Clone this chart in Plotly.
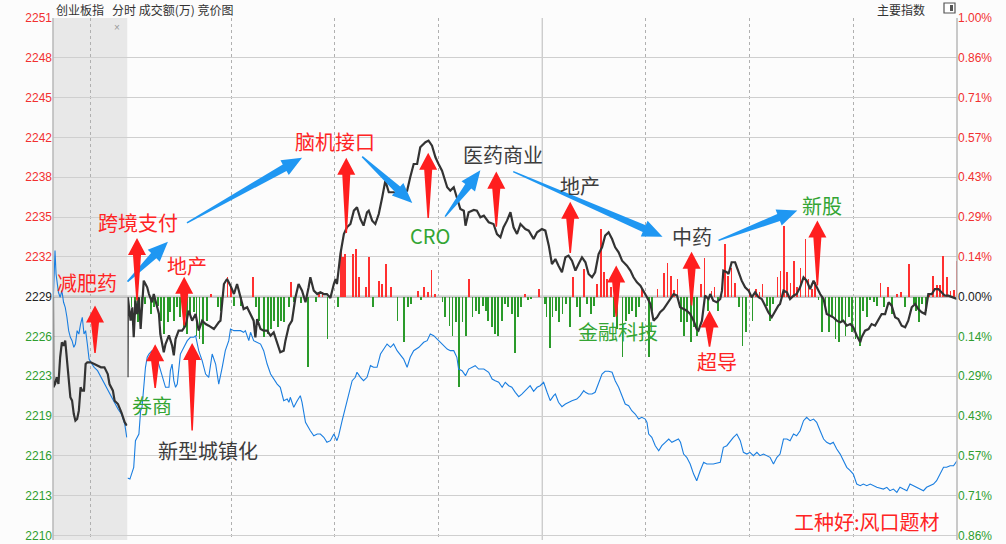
import math
import plotly.graph_objects as go

# ---------------- data ----------------
PREV_CLOSE = 2228.7
STEP = PREV_CLOSE / 700.0          # one grid step = 1/7 %
grid_steps = list(range(-6, 8))
price_labels = ["2210", "2213", "2216", "2219", "2223", "2226", "2229",
                "2232", "2235", "2238", "2242", "2245", "2248", "2251"]
pct_labels = ["0.86%", "0.71%", "0.57%", "0.43%", "0.29%", "0.14%", "0.00%",
              "0.14%", "0.29%", "0.43%", "0.57%", "0.71%", "0.86%", "1.00%"]

# call auction (minutes after 9:15)
auction_black = [(0, 2228.7), (0.05, 2221.45), (0.27, 2221.71), (0.5, 2222.25), (0.73, 2221.71),
                 (0.96, 2223.85), (1.19, 2225.05), (1.42, 2224.78), (1.64, 2225.18), (1.87, 2223.58),
                 (2.1, 2221.98), (2.33, 2220.65), (2.56, 2220.38), (2.79, 2219.31), (3.01, 2218.78),
                 (3.24, 2218.91), (3.47, 2219.58), (3.7, 2221.45), (3.93, 2221.18), (4.16, 2221.18),
                 (4.38, 2223.31), (4.61, 2223.45), (5.07, 2223.45), (5.53, 2223.31), (5.98, 2223.18),
                 (6.44, 2223.05), (6.9, 2223.05), (7.35, 2222.51), (7.58, 2221.71), (8.04, 2221.18),
                 (8.27, 2220.38), (8.72, 2220.11), (9.18, 2219.45), (9.63, 2218.65), (9.9, 2218.38)]
auction_blue = [(0.05, 2228.65), (0.27, 2232.38), (0.41, 2230.51), (0.59, 2229.85), (0.73, 2229.05),
                (0.96, 2228.65), (1.19, 2229.18), (1.42, 2228.25), (1.64, 2227.85), (1.87, 2227.05),
                (2.1, 2225.98), (2.33, 2225.45), (2.56, 2225.18), (2.79, 2224.65), (3.01, 2224.91),
                (3.24, 2225.98), (3.47, 2225.71), (3.7, 2226.51), (3.93, 2227.05), (4.16, 2225.71),
                (4.38, 2225.98), (4.61, 2224.91), (4.84, 2223.71), (5.07, 2223.45), (5.53, 2223.05),
                (5.98, 2222.78), (6.44, 2222.25), (6.9, 2221.71), (7.35, 2221.18), (7.81, 2220.65),
                (8.27, 2220.11), (8.72, 2219.71), (9.18, 2219.31), (9.63, 2218.51), (9.9, 2217.45)]

# trading session (minutes after 9:30, lunch removed)
index_line = [(0, 2222.25), (0.1, 2228.65), (0.9, 2226.78), (1.4, 2227.85), (1.8, 2225.45), (2.3, 2228.38),
              (2.8, 2227.31), (3.3, 2228.65), (3.8, 2226.11), (4.2, 2227.85), (4.7, 2229.98), (5.2, 2229.71),
              (5.7, 2229.45), (6.2, 2228.91), (6.7, 2228.51), (7.1, 2228.25), (7.6, 2228.91), (8.6, 2227.85),
              (9.1, 2227.31), (9.5, 2225.71), (10.5, 2224.25), (11.0, 2224.91), (12.0, 2225.6), (12.9, 2224.8),
              (13.4, 2224.0), (13.9, 2225.31), (14.8, 2225.98), (15.8, 2225.98), (16.8, 2226.38), (17.7, 2227.58),
              (18.7, 2226.78), (19.7, 2227.31), (20.6, 2225.98), (21.6, 2226.78), (22.6, 2226.51), (23.5, 2226.38),
              (25.0, 2226.11), (26.4, 2226.65), (26.9, 2226.78), (27.9, 2229.71), (28.8, 2230.11), (29.8, 2229.58),
              (30.8, 2228.91), (31.7, 2229.71), (32.7, 2228.65), (33.6, 2227.71), (34.6, 2227.85), (35.6, 2227.31),
              (36.5, 2226.78), (37.0, 2225.45), (37.5, 2226.91), (38.5, 2226.11), (39.4, 2225.98), (40.4, 2225.98),
              (41.4, 2225.58), (42.3, 2225.85), (43.3, 2224.91), (44.2, 2224.25), (45.2, 2224.38), (45.7, 2225.18),
              (46.7, 2226.38), (47.6, 2226.78), (48.6, 2228.65), (49.5, 2229.71), (50.5, 2229.18), (51.5, 2228.25),
              (52.4, 2229.45), (52.9, 2230.25), (53.9, 2229.18), (54.9, 2228.91), (55.8, 2229.05), (56.8, 2228.91),
              (57.7, 2228.91), (58.7, 2228.59), (59.7, 2229.71), (60.2, 2230.11), (60.6, 2229.71), (61.6, 2232.11),
              (62.6, 2233.71), (63.5, 2234.25), (64.5, 2234.51), (65.5, 2235.58), (66.4, 2235.85), (67.4, 2234.91),
              (68.3, 2234.38), (69.3, 2235.45), (69.8, 2235.58), (70.8, 2234.78), (71.7, 2234.51), (72.7, 2235.31),
              (73.7, 2236.65), (74.6, 2237.98), (75.6, 2237.05), (77.0, 2237.05), (79.0, 2236.91), (80.9, 2237.18),
              (81.8, 2238.25), (82.8, 2239.31), (83.8, 2239.31), (84.7, 2240.65), (86.2, 2241.05), (87.1, 2241.18),
              (88.1, 2240.78), (89.1, 2239.85), (90.0, 2239.31), (91.0, 2238.78), (92.5, 2237.45), (93.4, 2237.18),
              (94.4, 2237.45), (95.3, 2236.65), (96.3, 2235.71), (97.3, 2235.58), (97.8, 2234.38), (98.7, 2235.45),
              (100.2, 2235.63), (101.1, 2235.58), (102.1, 2235.05), (103.1, 2235.18), (104.5, 2234.65),
              (105.9, 2234.51), (106.9, 2233.71), (107.9, 2233.45), (108.8, 2234.25), (109.8, 2234.78),
              (110.8, 2235.45), (111.7, 2234.25), (112.7, 2233.71), (113.7, 2234.51), (115.1, 2234.11),
              (116.1, 2233.98), (117.5, 2233.31), (118.5, 2233.85), (119.9, 2234.11), (120.9, 2233.98),
              (121.9, 2232.78), (122.8, 2231.31), (123.8, 2231.71), (124.7, 2231.18), (125.7, 2230.65),
              (126.7, 2231.85), (127.6, 2231.98), (128.6, 2231.58), (129.6, 2230.78), (130.5, 2231.31),
              (131.5, 2231.85), (132.5, 2231.45), (133.4, 2230.51), (134.4, 2230.25), (135.3, 2230.65),
              (136.3, 2232.11), (137.3, 2232.65), (138.2, 2233.58), (139.2, 2233.85), (140.2, 2233.31),
              (141.1, 2232.65), (142.1, 2232.25), (143.1, 2231.58), (144.5, 2231.18), (145.5, 2230.78),
              (146.4, 2230.25), (147.4, 2229.85), (148.4, 2229.58), (149.3, 2229.18), (150.3, 2228.65),
              (151.3, 2228.11), (152.2, 2226.78), (153.2, 2227.05), (154.1, 2227.45), (155.1, 2227.71),
              (156.1, 2228.11), (157.0, 2228.51), (158.0, 2228.91), (159.0, 2228.78), (159.9, 2227.85),
              (160.9, 2227.71), (161.8, 2227.58), (162.8, 2227.31), (163.8, 2226.78), (164.7, 2226.11),
              (165.2, 2225.98), (166.2, 2226.78), (167.1, 2228.78), (168.1, 2228.51), (168.6, 2228.91),
              (169.5, 2228.38), (170.5, 2228.25), (171.5, 2228.51), (172.0, 2229.18), (172.4, 2230.78),
              (173.4, 2230.65), (173.9, 2230.51), (174.8, 2231.45), (175.8, 2231.45), (176.8, 2230.65),
              (177.7, 2229.98), (178.7, 2229.45), (179.7, 2229.18), (180.6, 2228.65), (181.6, 2229.05),
              (182.6, 2228.65), (183.5, 2228.51), (184.5, 2227.98), (185.4, 2227.45), (186.4, 2227.05),
              (187.4, 2227.58), (188.3, 2227.98), (188.8, 2228.11), (189.8, 2229.18), (190.8, 2229.05),
              (191.7, 2228.51), (192.7, 2228.78), (193.6, 2228.91), (194.6, 2229.45), (195.6, 2230.25),
              (196.5, 2229.98), (197.5, 2229.31), (198.5, 2229.98), (199.4, 2229.45), (200.4, 2228.91),
              (201.4, 2228.51), (202.3, 2227.31), (203.3, 2227.18), (204.2, 2227.05), (205.2, 2226.78),
              (206.2, 2226.65), (207.1, 2226.78), (208.1, 2226.38), (209.1, 2226.51), (210.0, 2226.25),
              (211.0, 2225.58), (212.0, 2225.05), (212.4, 2225.45), (213.4, 2225.98), (214.4, 2226.11),
              (215.3, 2226.51), (216.3, 2226.38), (217.3, 2226.91), (218.2, 2227.31), (219.2, 2227.31),
              (220.2, 2228.25), (221.1, 2227.98), (222.1, 2227.05), (223.0, 2226.91), (224.0, 2226.38),
              (225.0, 2226.25), (225.9, 2226.78), (226.9, 2227.85), (227.9, 2228.11), (228.8, 2227.71),
              (229.8, 2227.45), (230.8, 2227.31), (231.7, 2228.91), (232.7, 2228.91), (233.6, 2229.31),
              (234.6, 2229.31), (235.6, 2229.05), (236.5, 2228.78), (237.5, 2228.78), (238.5, 2228.65),
              (240.0, 2228.51)]

lead_line = [(0, 2214.2), (0.7, 2214.11), (1.8, 2215.05), (2.3, 2217.18), (3.3, 2217.71), (3.8, 2219.58),
             (4.2, 2219.85), (4.7, 2221.71), (5.2, 2223.05), (5.7, 2223.85), (6.2, 2224.11), (7.1, 2224.38),
             (7.6, 2223.58), (8.6, 2223.71), (9.5, 2222.91), (10.5, 2221.98), (11.0, 2221.45), (12.0, 2221.45),
             (12.4, 2222.78), (12.9, 2223.31), (13.4, 2221.98), (13.9, 2221.45), (14.4, 2221.71), (15.3, 2224.11),
             (16.3, 2224.65), (17.3, 2225.18), (18.2, 2225.45), (19.2, 2225.45), (19.7, 2225.58), (20.6, 2224.38),
             (21.6, 2223.58), (22.6, 2222.51), (23.5, 2222.25), (24.5, 2224.11), (25.5, 2223.31), (26.4, 2221.71),
             (27.4, 2223.05), (28.3, 2224.38), (29.3, 2225.18), (29.8, 2226.11), (30.8, 2225.98), (31.7, 2225.98),
             (32.7, 2225.98), (33.6, 2225.85), (34.1, 2225.98), (35.1, 2225.18), (35.6, 2225.85), (36.5, 2225.18),
             (37.5, 2225.05), (38.5, 2224.91), (39.4, 2224.38), (40.4, 2223.31), (41.4, 2222.51), (42.3, 2222.11),
             (43.3, 2221.71), (44.2, 2221.45), (45.2, 2220.38), (46.2, 2220.51), (46.7, 2220.25), (47.1, 2220.65),
             (48.1, 2219.85), (49.1, 2220.38), (50.0, 2220.78), (50.5, 2220.25), (51.5, 2218.65), (52.9, 2217.98),
             (53.9, 2217.58), (54.9, 2217.71), (55.8, 2217.71), (56.8, 2217.45), (57.7, 2217.05), (58.7, 2217.18),
             (59.7, 2217.71), (60.6, 2217.18), (61.1, 2217.58), (62.1, 2218.78), (63.0, 2219.85), (64.0, 2220.91),
             (65.0, 2221.98), (65.9, 2222.25), (66.4, 2222.65), (67.4, 2222.25), (68.3, 2221.98), (69.3, 2222.25),
             (70.3, 2223.18), (71.2, 2223.05), (72.2, 2223.05), (73.2, 2224.11), (74.1, 2224.51), (75.1, 2224.91),
             (76.1, 2224.65), (77.0, 2224.91), (78.0, 2224.38), (79.0, 2223.98), (79.9, 2223.71), (80.9, 2223.05),
             (81.8, 2223.85), (82.8, 2224.38), (84.3, 2224.65), (85.7, 2225.05), (86.7, 2225.18), (87.6, 2225.71),
             (88.6, 2225.58), (89.6, 2225.31), (90.5, 2225.05), (91.5, 2224.78), (92.5, 2224.51), (93.4, 2224.38),
             (94.4, 2224.38), (95.3, 2223.85), (95.8, 2222.91), (96.8, 2222.78), (97.8, 2222.38), (98.7, 2222.91),
             (99.7, 2223.05), (100.6, 2223.18), (101.6, 2222.91), (103.1, 2222.91), (104.5, 2222.65),
             (105.5, 2222.11), (106.4, 2221.98), (107.4, 2221.85), (108.4, 2221.45), (109.3, 2221.85),
             (110.3, 2221.58), (111.2, 2221.45), (112.2, 2221.05), (113.2, 2220.70), (114.1, 2220.91),
             (115.1, 2221.18), (116.1, 2221.45), (116.5, 2221.58), (117.5, 2221.13), (118.5, 2221.45),
             (119.4, 2221.58), (120.4, 2221.85), (121.4, 2221.05), (122.3, 2220.38), (123.3, 2220.78),
             (123.8, 2220.91), (124.7, 2220.25), (125.7, 2219.90), (126.7, 2220.11), (127.6, 2220.25),
             (128.6, 2220.38), (130.0, 2220.51), (131.0, 2220.78), (132.0, 2221.18), (132.5, 2221.05),
             (133.4, 2220.91), (134.4, 2220.91), (135.3, 2221.05), (136.3, 2221.71), (137.3, 2222.51),
             (138.2, 2222.73), (139.2, 2222.73), (140.2, 2222.65), (141.1, 2221.98), (142.1, 2221.45),
             (143.1, 2220.65), (144.0, 2220.11), (145.0, 2219.98), (145.9, 2219.58), (146.9, 2219.31),
             (147.9, 2218.91), (148.8, 2219.05), (149.8, 2218.91), (150.3, 2218.65), (150.8, 2217.71),
             (151.7, 2217.45), (152.7, 2216.78), (153.7, 2216.38), (154.6, 2216.78), (155.6, 2217.05),
             (156.6, 2217.31), (157.5, 2217.05), (158.5, 2217.18), (159.4, 2217.31), (160.0, 2217.05),
             (160.9, 2216.11), (161.8, 2215.85), (162.8, 2215.31), (163.8, 2214.51), (164.7, 2213.98),
             (165.7, 2214.78), (166.7, 2215.45), (167.6, 2215.31), (169.5, 2215.31), (171.5, 2215.45),
             (172.4, 2216.65), (173.4, 2216.78), (174.4, 2217.18), (175.3, 2217.45), (176.3, 2217.71),
             (177.3, 2217.18), (178.2, 2216.25), (179.2, 2216.11), (180.1, 2216.25), (181.1, 2215.98),
             (182.1, 2216.25), (183.0, 2215.98), (184.0, 2216.11), (185.0, 2215.98), (185.9, 2215.85),
             (186.9, 2215.31), (187.9, 2215.85), (188.8, 2216.11), (189.8, 2217.31), (190.8, 2217.31),
             (191.7, 2217.18), (192.7, 2217.71), (193.6, 2217.58), (194.6, 2217.98), (195.6, 2218.78),
             (196.5, 2219.05), (197.5, 2218.78), (198.5, 2218.91), (199.4, 2218.65), (200.4, 2217.98),
             (201.4, 2217.31), (202.3, 2217.05), (203.3, 2216.91), (204.2, 2217.05), (205.2, 2216.51),
             (206.2, 2216.11), (207.1, 2215.58), (208.1, 2215.05), (209.1, 2214.78), (210.0, 2214.51),
             (211.0, 2213.71), (212.0, 2213.58), (212.9, 2213.71), (213.9, 2213.58), (214.9, 2213.71),
             (215.8, 2213.58), (216.8, 2213.45), (218.7, 2213.31), (219.7, 2213.45), (220.6, 2213.18),
             (221.6, 2213.31), (222.6, 2213.05), (223.5, 2213.45), (224.5, 2213.31), (225.5, 2213.18),
             (226.4, 2213.71), (227.4, 2213.58), (229.3, 2213.31), (230.3, 2213.18), (231.2, 2213.45),
             (232.2, 2213.58), (233.2, 2213.71), (234.1, 2213.98), (235.1, 2214.51), (236.1, 2215.05),
             (237.0, 2215.05), (238.0, 2215.18), (239.0, 2215.18), (240.0, 2215.58)]

# per-minute bars drawn from the previous-close line (index points)
flow_bars = [(1.0, -0.85), (2.0, -1.5), (3.0, -2.0), (4.0, -1.0), (5.0, -0.6), (6.7, -1.39), (7.6, -0.85),
             (8.6, -0.75), (9.5, -1.92), (10.5, -2.99), (11.5, -2.05), (12.2, -1.25), (13.2, -1.92),
             (14.2, -0.85), (15.1, -1.65), (16.1, -2.45), (17.1, -2.99), (18.0, -1.39), (19.0, -1.25),
             (19.8, -3.12), (20.7, -3.39), (21.7, -3.79), (22.8, -1.92), (24.0, 0.21), (26.0, -0.85),
             (26.9, -1.12), (28.8, 1.55), (29.8, 0.75), (30.7, -0.72), (32.7, -0.72), (36.1, 1.6),
             (37.0, -0.85), (38.0, -1.92), (39.4, -3.25), (40.4, -2.99), (41.4, -2.59), (42.3, -1.92),
             (43.3, -2.45), (44.2, -1.92), (45.2, -2.05), (46.7, -0.85), (47.1, 1.2), (48.1, -0.45),
             (50.0, -0.5), (52.0, -5.65), (54.4, -0.45), (55.3, 0.35), (56.3, 0.35), (57.7, -3.39),
             (60.8, -0.85), (61.6, 3.55), (62.1, 3.15), (62.8, 3.41), (65.0, 3.4), (66.0, 3.85),
             (66.9, 1.55), (68.8, 0.75), (69.8, 3.15), (71.0, -0.85), (72.7, 1.28), (73.6, 1.01),
             (74.6, 2.61), (76.1, 0.75), (78.0, -1.92), (79.9, -3.65), (80.9, -0.8), (81.8, -0.6),
             (83.8, 0.45), (84.7, -0.3), (85.7, 0.75), (86.7, 0.4), (87.8, 2.1), (88.9, 0.2),
             (91.0, -0.4), (91.8, -1.65), (93.0, -2.32), (93.9, -3.12), (94.9, -2.05), (95.8, -7.25),
             (96.8, -2.05), (97.8, -3.12), (98.7, 1.39), (99.7, -1.65), (100.6, -1.12), (101.6, -1.39),
             (102.6, -0.75), (103.5, -1.12), (104.2, -1.92), (105.2, -2.45), (106.1, -2.99), (107.1, -3.12),
             (108.1, -1.92), (109.0, -0.6), (110.0, -0.85), (111.0, -1.39), (111.9, -4.52), (112.9, -1.65),
             (113.8, -0.85), (114.8, 0.2), (115.8, -0.3), (116.7, -0.2), (119.0, 0.65), (120.6, -0.6),
             (121.1, -1.65), (122.0, -4.12), (122.8, -1.65), (123.8, -1.12), (124.7, -2.05), (125.7, -1.39),
             (126.7, -0.6), (127.9, -2.45), (128.8, 1.55), (129.8, -0.85), (130.7, -1.65), (132.0, 2.19),
             (132.9, -0.6), (133.9, -1.39), (134.9, -0.75), (135.8, 1.01), (136.8, 5.41), (137.8, 2.0),
             (138.7, 1.39), (139.7, 0.75), (140.6, -1.65), (141.6, -2.59), (143.1, -4.79), (144.0, -1.92),
             (145.0, -1.39), (145.9, -1.12), (146.9, -1.65), (147.9, -0.85), (148.8, 0.6), (150.8, -4.79),
             (151.7, -1.12), (153.2, 0.6), (155.1, 1.92), (156.1, 2.72), (157.0, 1.65), (158.0, 0.5),
             (159.0, 1.39), (159.9, -2.05), (160.9, -3.12), (161.8, -2.05), (162.8, -3.65), (163.8, -2.45),
             (164.7, -3.12), (165.9, 1.01), (166.8, 3.12), (167.8, -1.12), (168.8, 0.45), (169.7, 0.75),
             (170.7, -1.12), (171.7, 0.35), (172.7, 4.19), (173.7, 1.65), (174.6, 2.32), (175.6, 1.12),
             (176.8, -0.85), (177.8, -3.92), (178.8, -2.85), (179.8, 0.6), (180.7, -1.92), (181.7, 0.6),
             (182.7, 0.35), (183.6, 1.01), (184.8, -0.75), (185.7, -1.92), (186.7, -0.6), (187.9, 1.55),
             (188.8, 2.05), (189.8, 5.65), (190.7, 2.0), (191.7, 1.12), (192.7, 2.85), (193.6, 0.75),
             (194.6, 2.32), (196.0, 4.65), (196.9, 1.4), (197.9, 0.6), (198.8, 1.2), (199.8, -0.3),
             (200.9, -2.85), (201.8, -1.12), (202.8, -2.85), (203.8, -1.65), (204.7, -3.39), (205.7, -3.65),
             (206.7, -2.05), (207.6, -3.12), (208.6, -1.65), (209.5, -2.85), (210.5, -3.39), (211.8, -3.92),
             (212.7, -1.12), (213.7, -1.65), (214.8, -0.3), (215.8, -0.45), (216.8, -0.75), (217.7, 1.12),
             (218.7, -0.85), (219.9, 0.75), (221.1, -1.39), (222.6, 0.2), (223.7, 0.35), (224.7, -0.85),
             (225.9, 2.59), (227.4, -0.6), (227.9, -1.12), (228.8, -2.05), (229.8, -0.6), (230.8, -1.12),
             (231.7, 0.25), (233.0, 1.65), (234.1, 0.9), (234.9, 0.9), (235.9, 3.25), (237.0, 1.55),
             (238.0, 0.45), (238.9, 0.5), (239.7, 2.85)]

# annotations: text, axis, x, y(price), colour key
theme_labels = [("减肥药", "x", 4.56, 2229.8, "red"),
                ("跨境支付", "x2", 3.0, 2234.6, "red"),
                ("地产", "x2", 17.2, 2231.2, "red"),
                ("券商", "x2", 7.1, 2220.0, "green"),
                ("新型城镇化", "x2", 23.3, 2216.4, "dark"),
                ("脑机接口", "x2", 60.1, 2241.1, "red"),
                ("CRO", "x2", 87.6, 2233.6, "green"),
                ("医药商业", "x2", 108.7, 2240.1, "dark"),
                ("地产", "x2", 131.0, 2237.6, "dark"),
                ("金融科技", "x2", 142.0, 2225.9, "green"),
                ("中药", "x2", 163.2, 2233.5, "dark"),
                ("超导", "x2", 170.7, 2223.5, "red"),
                ("新股", "x2", 200.8, 2236.0, "green"),
                ("工种好:风口题材", "x2", 214.1, 2210.7, "red")]
# red up arrows: axis, x, tail price, tip price
up_arrows = [("x", 5.64, 2224.2, 2228.0), ("x2", 2.75, 2228.4, 2233.4), ("x2", 16.4, 2226.4, 2230.3),
             ("x2", 8.0, 2221.4, 2224.9), ("x2", 18.7, 2218.0, 2225.0), ("x2", 63.3, 2233.8, 2239.8),
             ("x2", 87.0, 2235.0, 2240.2), ("x2", 106.7, 2234.3, 2238.7), ("x2", 128.1, 2232.2, 2236.3),
             ("x2", 141.4, 2227.1, 2231.2), ("x2", 163.2, 2228.0, 2232.3), ("x2", 168.4, 2224.7, 2227.6),
             ("x2", 199.6, 2229.6, 2234.8)]
# blue rotation arrows: x0, y0 -> x1, y1 (main session axis)
rotation_arrows = [(0.0, 2229.9, 11.7, 2233.1), (17.2, 2234.6, 50.5, 2239.8), (67.9, 2239.9, 82.4, 2236.2),
                   (91.9, 2235.1, 102.1, 2238.8), (111.6, 2238.7, 154.8, 2233.5), (171.0, 2233.2, 193.8, 2235.6)]

# ---------------- geometry / style ----------------
W, H = 1006, 544
ML, MR, MT, MB = 53, 49, 18, 4
PW, PH = W - ML - MR, H - MT - MB
AUC_FRAC = 74.5 / PW
PX_PER_STEP = 517.5 / 13
Y_TOP = PREV_CLOSE + 7 * STEP
Y_BOT = Y_TOP - PH / PX_PER_STEP * STEP

RED, GREEN = "#f23030", "#2f9e2f"
COL = {"red": "#ff2424", "green": "#33a533", "dark": "#3c3c3c"}
TXT_FONT = "Noto Sans CJK SC, Noto Sans, sans-serif"
NUM_FONT = "Liberation Sans, Arial, sans-serif"


def to_px(axis, xv, yv):
    if axis == "x":
        px = ML + xv / 10.0 * AUC_FRAC * PW
    else:
        px = ML + AUC_FRAC * PW + xv / 240.0 * (1 - AUC_FRAC) * PW
    py = MT + (Y_TOP - yv) / (Y_TOP - Y_BOT) * PH
    return px, py


def to_paper(px, py):
    return (px - ML) / PW, 1 - (py - MT) / PH


def arrow_path(p0, p1, tail_w, neck_w, head_w, head_len):
    (x0, y0), (x1, y1) = p0, p1
    L = math.hypot(x1 - x0, y1 - y0)
    ux, uy = (x1 - x0) / L, (y1 - y0) / L
    nx, ny = -uy, ux
    bx, by = x1 - ux * head_len, y1 - uy * head_len
    pts = [(x0 + nx * tail_w / 2, y0 + ny * tail_w / 2),
           (bx + nx * neck_w / 2, by + ny * neck_w / 2),
           (bx + nx * head_w / 2, by + ny * head_w / 2),
           (x1, y1),
           (bx - nx * head_w / 2, by - ny * head_w / 2),
           (bx - nx * neck_w / 2, by - ny * neck_w / 2),
           (x0 - nx * tail_w / 2, y0 - ny * tail_w / 2)]
    pp = [to_paper(a, b) for a, b in pts]
    return "M " + " L ".join(f"{a:.5f},{b:.5f}" for a, b in pp) + " Z"


tickvals = [PREV_CLOSE + k * STEP for k in grid_steps]


def colored(labels):
    out = []
    for k, t in zip(grid_steps, labels):
        c = RED if k > 0 else (GREEN if k < 0 else "#222222")
        out.append(f"<span style='color:{c}'>{t}</span>")
    return out


fig = go.Figure()

bar_colors = ["#ff3030" if v > 0 else "#2a9a2a" for _, v in flow_bars]
fig.add_trace(go.Bar(x=[t for t, _ in flow_bars], y=[v for _, v in flow_bars], base=PREV_CLOSE,
                     width=0.24, marker=dict(color=bar_colors, line=dict(width=0)),
                     xaxis="x2", yaxis="y", hoverinfo="skip", showlegend=False))
fig.add_trace(go.Scatter(x=[t for t, _ in auction_blue], y=[p for _, p in auction_blue], mode="lines",
                         line=dict(color="#1a7ee0", width=1.1), xaxis="x", yaxis="y", showlegend=False))
fig.add_trace(go.Scatter(x=[t for t, _ in lead_line], y=[p for _, p in lead_line], mode="lines",
                         line=dict(color="#1a7ee0", width=1.1), xaxis="x2", yaxis="y", showlegend=False))
fig.add_trace(go.Scatter(x=[t for t, _ in auction_black], y=[p for _, p in auction_black], mode="lines",
                         line=dict(color="#333333", width=2.2), xaxis="x", yaxis="y", showlegend=False))
fig.add_trace(go.Scatter(x=[t for t, _ in index_line], y=[p for _, p in index_line], mode="lines",
                         line=dict(color="#333333", width=2.2), xaxis="x2", yaxis="y", showlegend=False))
# anchor trace for the right-hand percentage axis
fig.add_trace(go.Scatter(x=[index_line[0][0]], y=[PREV_CLOSE], mode="markers", marker=dict(opacity=0),
                         xaxis="x2", yaxis="y2", hoverinfo="skip", showlegend=False))

shapes = []
shapes.append(dict(type="rect", xref="x", yref="paper", x0=0, x1=10, y0=0, y1=1,
                   fillcolor="#e8e8e8", line=dict(width=0), layer="below"))
shapes.append(dict(type="line", xref="paper", yref="y", x0=0, x1=1, y0=PREV_CLOSE, y1=PREV_CLOSE,
                   line=dict(color="#bdbdbd", width=2.5), layer="between"))
shapes.append(dict(type="line", xref="x2", yref="paper", x0=120, x1=120, y0=0, y1=1,
                   line=dict(color="#c4c4c4", width=1.2), layer="between"))
for xp in (0, 1):
    shapes.append(dict(type="line", xref="paper", yref="paper", x0=xp, x1=xp, y0=0, y1=1,
                       line=dict(color="#b8b8b8", width=1.5), layer="above"))
for x0, y0, x1, y1 in rotation_arrows:
    path = arrow_path(to_px("x2", x0, y0), to_px("x2", x1, y1), 1.5, 7.5, 17, 20)
    shapes.append(dict(type="path", path=path, xref="paper", yref="paper",
                       fillcolor="#1f97f2", line=dict(width=0), layer="above"))
for ax, xv, y_tail, y_tip in up_arrows:
    path = arrow_path(to_px(ax, xv, y_tail), to_px(ax, xv, y_tip), 1.5, 8, 18, 17)
    shapes.append(dict(type="path", path=path, xref="paper", yref="paper",
                       fillcolor="#ff1e1e", line=dict(width=0), layer="above"))
ix0, iy0 = to_paper(944, 13)
ix1, iy1 = to_paper(955, 3)
shapes.append(dict(type="rect", xref="paper", yref="paper", x0=ix0, x1=ix1, y0=iy0, y1=iy1,
                   line=dict(color="#555555", width=1.2), fillcolor="#ffffff"))
jx0, jy0 = to_paper(950, 11)
jx1, jy1 = to_paper(953, 5)
shapes.append(dict(type="rect", xref="paper", yref="paper", x0=jx0, x1=jx1, y0=jy0, y1=jy1,
                   line=dict(width=0), fillcolor="#555555"))

annotations = []
for text, ax, xv, yv, ck in theme_labels:
    size = 20
    annotations.append(dict(text=text, xref=ax, yref="y", x=xv, y=yv, showarrow=False,
                            font=dict(family=TXT_FONT, size=size, color=COL[ck]),
                            xanchor="center", yanchor="middle"))
hx, hy = to_paper(54, 9)
annotations.append(dict(text="创业板指\u00a0\u00a0 分时 成交额(万) 竞价图", xref="paper", yref="paper",
                        x=hx, y=hy, showarrow=False, xanchor="left", yanchor="middle",
                        font=dict(family=TXT_FONT, size=12, color="#333333")))
rx, ry = to_paper(927, 9)
annotations.append(dict(text="主要指数", xref="paper", yref="paper", x=rx, y=ry, showarrow=False,
                        xanchor="right", yanchor="middle",
                        font=dict(family=TXT_FONT, size=12, color="#333333")))
cx, cy = to_paper(117, 27)
annotations.append(dict(text="×", xref="paper", yref="paper", x=cx, y=cy, showarrow=False,
                        xanchor="center", yanchor="middle",
                        font=dict(family=NUM_FONT, size=10, color="#999999")))

fig.update_layout(
    width=W, height=H,
    margin=dict(l=ML, r=MR, t=MT, b=MB, autoexpand=False),
    paper_bgcolor="#fcfcfc", plot_bgcolor="#fcfcfc",
    showlegend=False, bargap=0,
    xaxis=dict(domain=[0, AUC_FRAC], range=[0, 10], anchor="y", tickvals=[5], showticklabels=False,
               ticks="", showgrid=True, gridcolor="#b0b0b0", griddash="dot", gridwidth=1,
               zeroline=False, showline=False, fixedrange=True, automargin=False),
    xaxis2=dict(domain=[AUC_FRAC, 1], range=[0, 240], anchor="y",
                tickvals=[30, 60, 90, 150, 180, 210], showticklabels=False, ticks="",
                showgrid=True, gridcolor="#b0b0b0", griddash="dot", gridwidth=1,
                zeroline=False, showline=False, fixedrange=True, automargin=False),
    yaxis=dict(range=[Y_BOT, Y_TOP], anchor="x", tickvals=tickvals, ticktext=colored(price_labels),
               showgrid=True, gridcolor="#cfcfcf", gridwidth=1, zeroline=False, ticks="",
               tickfont=dict(family=NUM_FONT, size=12), showline=False, fixedrange=True,
               automargin=False),
    yaxis2=dict(range=[Y_BOT, Y_TOP], overlaying="y", side="right", anchor="x2", tickvals=tickvals,
                ticktext=colored(pct_labels), showgrid=False, zeroline=False, ticks="",
                tickfont=dict(family=NUM_FONT, size=12), showline=False, fixedrange=True,
                automargin=False),
    shapes=shapes, annotations=annotations,
)

# the page body has a default 8px margin; remove it so the figure fills the window exactly
fig.write_html("out.html", config={"displayModeBar": False},
               post_script="document.body.style.margin='0';document.body.style.overflow='hidden';")
